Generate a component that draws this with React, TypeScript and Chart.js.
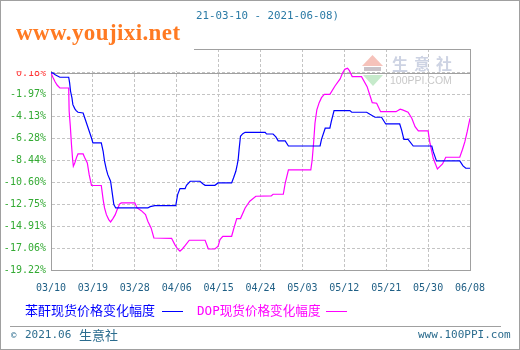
import React, { useEffect, useRef } from "react";
import { Chart, registerables } from "chart.js";

Chart.register(...registerables);

// ---- data ----
const xTickLabels = ["03/10", "03/19", "03/28", "04/06", "04/15", "04/24", "05/03", "05/12", "05/21", "05/30", "06/08"];
const yTickValues = [0.18, -1.97, -4.13, -6.28, -8.44, -10.6, -12.75, -14.91, -17.06, -19.22];
const yTickLabels = ["0.18%", "-1.97%", "-4.13%", "-6.28%", "-8.44%", "-10.60%", "-12.75%", "-14.91%", "-17.06%", "-19.22%"];

// day offsets from 03/10
const anhydrideDays = [0, 0.4, 0.9, 1.9, 3.8, 4.0, 4.2, 4.5, 4.7, 5.1, 5.4, 5.8, 6.9, 8.7, 9.0, 10.8, 11.2, 11.5, 11.9, 12.2, 12.8, 13.2, 13.5, 13.9, 20.8, 21.3, 22.3, 26.8, 27.2, 27.7, 28.8, 29.1, 29.9, 32.0, 32.6, 33.1, 35.2, 35.9, 38.8, 39.2, 39.7, 40.0, 40.2, 40.4, 40.7, 41.2, 41.7, 46.0, 46.3, 47.7, 48.3, 48.8, 50.3, 51.0, 57.8, 58.1, 58.9, 59.9, 60.2, 60.8, 64.2, 64.6, 67.8, 68.5, 69.6, 71.0, 71.9, 74.9, 75.3, 75.8, 76.7, 77.8, 81.8, 82.1, 82.8, 87.8, 88.5, 89.1, 90];
const anhydrideValues = [0.18, 0.18, 0.01, -0.24, -0.24, -0.8, -1.62, -2.28, -2.94, -3.33, -3.53, -3.69, -3.76, -6.22, -6.71, -6.71, -7.53, -8.51, -9.34, -9.83, -10.48, -11.8, -12.78, -13.11, -13.11, -12.98, -12.88, -12.88, -11.8, -11.21, -11.21, -10.88, -10.48, -10.48, -10.72, -10.88, -10.88, -10.65, -10.65, -10.16, -9.5, -8.85, -8.36, -7.37, -6.05, -5.8, -5.66, -5.66, -5.83, -5.83, -6.12, -6.51, -6.51, -7.01, -7.01, -6.35, -5.26, -5.26, -4.61, -3.53, -3.53, -3.69, -3.69, -3.89, -4.18, -4.18, -4.84, -4.84, -5.43, -6.35, -6.35, -7.01, -7.01, -7.57, -8.48, -8.48, -8.97, -9.2, -9.2];

const dopDays = [0, 0.4, 0.9, 1.35, 1.9, 3.8, 3.9, 4.15, 4.4, 4.65, 4.8, 5.1, 5.5, 5.8, 6.9, 7.2, 7.8, 8.2, 8.7, 10.8, 11.2, 11.5, 11.9, 12.4, 12.8, 13.3, 13.8, 14.2, 14.75, 15.1, 18.0, 18.5, 19.4, 20.3, 20.8, 21.5, 22.1, 25.9, 26.6, 27.2, 27.7, 28.2, 28.8, 29.7, 33.1, 33.8, 35.2, 35.9, 36.3, 36.9, 38.8, 39.3, 39.9, 40.7, 41.7, 42.7, 44.0, 47.3, 47.7, 49.9, 50.3, 51.0, 55.8, 56.1, 56.4, 56.7, 57.1, 57.6, 58.1, 58.7, 59.9, 61.0, 62.1, 62.6, 63.1, 63.7, 64.1, 64.7, 66.7, 67.9, 68.7, 69.0, 69.95, 70.8, 74.1, 75.0, 75.5, 76.7, 77.5, 78.2, 78.9, 81.0, 81.4, 82.1, 83.0, 84.1, 84.8, 87.8, 88.4, 88.9, 89.4, 90];
const dopValues = [0.18, -0.24, -0.71, -1.03, -1.3, -1.3, -3.59, -5.07, -6.88, -8.36, -9.0, -8.68, -8.12, -7.79, -7.79, -8.12, -8.68, -9.83, -10.9, -10.9, -12.29, -13.11, -13.77, -14.26, -14.49, -14.16, -13.77, -13.28, -12.72, -12.62, -12.62, -13.11, -13.38, -13.77, -14.42, -15.08, -16.07, -16.1, -16.72, -17.15, -17.37, -17.15, -16.82, -16.29, -16.29, -17.15, -17.15, -16.88, -16.23, -15.9, -15.9, -15.08, -14.16, -14.16, -13.11, -12.45, -11.96, -11.93, -11.76, -11.76, -10.68, -9.37, -9.37, -8.39, -6.74, -4.77, -3.46, -2.74, -2.25, -1.92, -1.92, -1.1, -0.41, 0.15, 0.54, 0.64, 0.41, -0.18, -0.18, -1.17, -2.31, -2.74, -2.8, -3.63, -3.63, -3.39, -3.46, -3.69, -4.28, -5.11, -5.53, -5.53, -6.74, -8.22, -9.27, -8.78, -8.12, -8.12, -7.33, -6.58, -5.6, -4.28];

const anhydrideLabel = "苯酐现货价格变化幅度";
const dopLabel = "DOP现货价格变化幅度";
const titleText = "21-03-10 - 2021-06-08)";

const MONO = "'DejaVu Sans Mono', monospace";
const CJK = "'DejaVu Sans Mono', 'Noto Sans CJK SC', sans-serif";

const framePlugin = {
  id: "frame",
  beforeDatasetsDraw(chart: any) {
    const { ctx, chartArea } = chart;
    const yScale = chart.scales.y;
    ctx.save();
    // watermark logo
    ctx.fillStyle = "#F6C2BA";
    ctx.beginPath();
    ctx.moveTo(372.5, 55);
    ctx.lineTo(362, 66);
    ctx.lineTo(383, 66);
    ctx.closePath();
    ctx.fill();
    ctx.fillStyle = "#C9C2C8";
    ctx.fillRect(364, 67, 17, 4);
    ctx.fillStyle = "#C6EACB";
    ctx.beginPath();
    ctx.moveTo(363, 75);
    ctx.lineTo(383, 75);
    ctx.lineTo(373, 86);
    ctx.closePath();
    ctx.fill();
    ctx.fillStyle = "#CDD3E3";
    ctx.font = "bold 16px 'Noto Sans CJK SC'";
    ctx.textBaseline = "middle";
    ctx.textAlign = "left";
    ["生", "意", "社"].forEach((c, i) => ctx.fillText(c, 392 + i * 22, 64));
    ctx.fillStyle = "#C8C8C8";
    ctx.font = "10.5px 'Liberation Sans'";
    ctx.fillText("100PPI.COM", 390, 81);
    // solid reference line at 0.18
    const y0 = Math.round(yScale.getPixelForValue(0.18)) + 0.5;
    ctx.strokeStyle = "#A0A0A0";
    ctx.lineWidth = 1;
    ctx.beginPath();
    ctx.moveTo(chartArea.left, y0);
    ctx.lineTo(chartArea.right, y0);
    ctx.stroke();
    // frame
    ctx.strokeRect(Math.round(chartArea.left) + 0.5, Math.round(chartArea.top) + 0.5, Math.round(chartArea.right - chartArea.left), Math.round(chartArea.bottom - chartArea.top));
    ctx.restore();
  },
};

export default function App() {
  const ref = useRef<HTMLCanvasElement | null>(null);

  useEffect(() => {
    if (!ref.current) return;
    const chart = new Chart(ref.current, {
      type: "line",
      data: {
        datasets: [
          {
            label: anhydrideLabel,
            data: anhydrideDays.map((d, i) => ({ x: d, y: anhydrideValues[i] })),
            borderColor: "#0000FF",
            borderWidth: 1.2,
            pointRadius: 0,
            tension: 0,
            fill: false,
          },
          {
            label: dopLabel,
            data: dopDays.map((d, i) => ({ x: d, y: dopValues[i] })),
            borderColor: "#FF00FF",
            borderWidth: 1.2,
            pointRadius: 0,
            tension: 0,
            fill: false,
          },
        ],
      },
      options: {
        animation: false,
        responsive: false,
        devicePixelRatio: 1,
        layout: { padding: { left: 0, right: 50, top: 49, bottom: 0 } },
        plugins: { legend: { display: false }, tooltip: { enabled: false }, title: { display: false } },
        scales: {
          x: {
            type: "linear",
            min: 0,
            max: 90,
            afterFit: (s: any) => {
              s.height = 80;
            },
            ticks: {
              stepSize: 9,
              autoSkip: false,
              maxRotation: 0,
              padding: 12,
              color: "#1F5F85",
              font: { family: MONO, size: 10 },
              callback: (v: any) => xTickLabels[Math.round(Number(v) / 9)] ?? "",
            },
            grid: { color: "#C4C4C4", drawTicks: false, lineWidth: 1 },
            border: { display: true, color: "#A0A0A0", dash: [3, 2] },
          },
          y: {
            type: "linear",
            min: -19.22,
            max: 2.54,
            afterFit: (s: any) => {
              s.width = 51;
            },
            afterBuildTicks: (s: any) => {
              s.ticks = yTickValues.map((v) => ({ value: v }));
            },
            ticks: {
              padding: 5,
              autoSkip: false,
              font: { family: MONO, size: 10 },
              color: (c: any) => (c.tick && c.tick.value === 0.18 ? "#FF3333" : "#33AA33"),
              callback: (v: any) => {
                const i = yTickValues.indexOf(Number(v));
                return i >= 0 ? yTickLabels[i] : "";
              },
            },
            grid: { color: "#C4C4C4", drawTicks: false, lineWidth: 1 },
            border: { display: true, color: "#A0A0A0", dash: [3, 2] },
          },
        },
      },
      plugins: [framePlugin],
    });
    return () => chart.destroy();
  }, []);

  const abs = (o: any): React.CSSProperties => ({ position: "absolute", whiteSpace: "nowrap", ...o });

  return (
    <div style={{ position: "fixed", left: 0, top: 0, width: 520, height: 350, background: "#fff", overflow: "hidden" }}>
      <canvas ref={ref} width={520} height={350} style={{ position: "absolute", left: 0, top: 0, width: 520, height: 350 }} />
      <div style={abs({ left: 1, top: 22, width: 193, height: 49, background: "#fff" })} />
      <div style={abs({ left: 16, top: 20, lineHeight: "26px", fontFamily: "'Liberation Serif', serif", fontWeight: "bold", fontSize: 23, letterSpacing: "0.4px", color: "#FF7A22" })}>www.youjixi.net</div>
      <div style={abs({ left: 196, top: 9, lineHeight: "13px", fontFamily: MONO, fontSize: 10.8, color: "#2A7AA5" })}>{titleText}</div>
      <div style={abs({ left: 25, top: 302, lineHeight: "18px", fontFamily: CJK, fontSize: 13, color: "#0000FF" })}>{anhydrideLabel}</div>
      <div style={abs({ left: 162, top: 311, width: 21, height: 1, background: "#0000FF" })} />
      <div style={abs({ left: 197, top: 302, lineHeight: "18px", fontFamily: CJK, fontSize: 12.6, color: "#FF00FF" })}>{dopLabel}</div>
      <div style={abs({ left: 326, top: 311, width: 21, height: 1, background: "#FF00FF" })} />
      <div style={abs({ left: 10, top: 326, width: 491, height: 1, background: "#A0A0A0" })} />
      <div style={abs({ left: 11, top: 329, lineHeight: "12px", fontFamily: MONO, fontSize: 9, color: "#2B6C8E" })}>©</div>
      <div style={abs({ left: 25, top: 327, lineHeight: "16px", fontFamily: MONO, fontSize: 11, color: "#2B6C8E" })}>2021.06</div>
      <div style={abs({ left: 79, top: 326, lineHeight: "18px", fontFamily: "'Noto Sans CJK SC', sans-serif", fontSize: 13, color: "#2B6C8E" })}>生意社</div>
      <div style={abs({ left: 418, top: 327, lineHeight: "16px", fontFamily: MONO, fontSize: 11, color: "#2B6C8E" })}>www.100PPI.com</div>
      <div style={abs({ left: 0, top: 0, width: 520, height: 350, boxSizing: "border-box", border: "1px solid #A0A0A0", pointerEvents: "none" })} />
    </div>
  );
}
